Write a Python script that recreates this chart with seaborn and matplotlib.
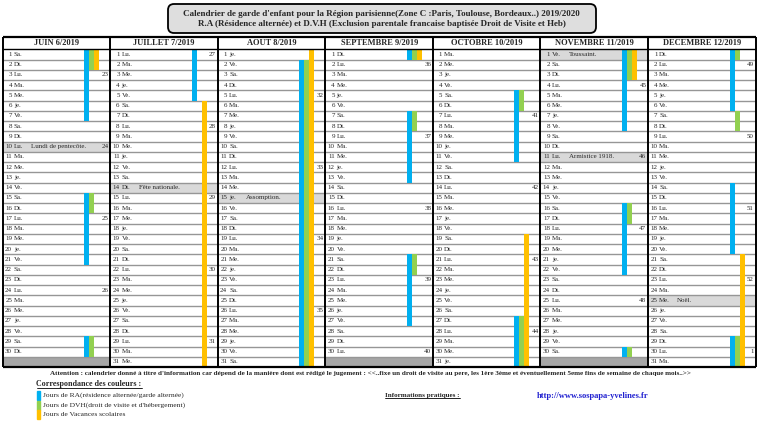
import numpy as np
import pandas as pd
import seaborn as sns
import matplotlib.pyplot as plt
from matplotlib.colors import ListedColormap
from matplotlib.patches import FancyBboxPatch, Rectangle
from matplotlib.transforms import IdentityTransform

month_titles = ["JUIN 6/2019", "JUILLET 7/2019", "AOUT 8/2019", "SEPTEMBRE 9/2019",
                "OCTOBRE 10/2019", "NOVEMBRE 11/2019", "DECEMBRE 12/2019"]
month_starts = ["2019-06-01", "2019-07-01", "2019-08-01", "2019-09-01",
                "2019-10-01", "2019-11-01", "2019-12-01"]

# day spans (first day, last day) per month
ra_spans = [[(1, 7), (15, 21), (29, 30)], [(1, 5)], [(2, 31)], [(1, 1), (7, 13), (21, 27)],
            [(5, 11), (27, 31)], [(1, 8), (16, 22), (30, 30)], [(1, 6), (14, 20), (29, 31)]]
dvh_spans = [[(1, 2), (15, 16), (29, 30)], [], [(2, 31)], [(1, 1), (7, 8), (21, 22)],
             [(5, 6), (27, 31)], [(1, 3), (16, 17), (30, 30)], [(1, 1), (7, 8), (29, 31)]]
vac_spans = [[(1, 2)], [(6, 31)], [(1, 31)], [(1, 1)], [(19, 31)], [(1, 3)], [(21, 31)]]

holidays = [(0, 10, "Lundi de pentecôte."), (1, 14, "Fête nationale."), (2, 15, "Assomption."),
            (5, 1, "Toussaint."), (5, 11, "Armistice 1918."), (6, 25, "Noël.")]
day_abbr = ["Lu.", "Ma.", "Me.", "je.", "Ve.", "Sa.", "Di."]

legend_labels = ["Jours de RA(résidence alternée/garde alternée)",
                 "Jours de DVH(droit de visite et d'hébergement)",
                 "Jours de Vacances scolaires"]

title_lines = ["Calendrier de garde d'enfant pour la Région parisienne(Zone C :Paris, Toulouse, Bordeaux..) 2019/2020",
               "R.A (Résidence alternée) et D.V.H (Exclusion parentale francaise baptisée Droit de Visite et Heb)"]
warning = ("Attention : calendrier donné à titre d'information car dépend de la manière dont est rédigé le jugement : "
           "<<..fixe un droit de visite au pere, les 1ère 3ème et éventuellement 5eme fins de semaine de chaque mois..>>")

BLUE, GREEN, YELLOW = "#00b0f0", "#92d050", "#ffc000"

sns.set_style("white")
plt.rcParams["font.family"] = ["Liberation Serif", "DejaVu Serif"]

W, H = 760, 421
fig = plt.figure(figsize=(W / 100, H / 100), dpi=100)

# grid axes in pixel placement
left, right, top, bottom = 2.7, 755.6, 37.5, 367.0
ax = fig.add_axes([left / W, 1 - bottom / H, (right - left) / W, (bottom - top) / H])
head = 1.15

# background cells: 0 normal, 1 holiday, 2 day not in month
bg = np.zeros((31, 7))
lengths = [pd.Timestamp(s).days_in_month for s in month_starts]
for m, n in enumerate(lengths):
    bg[n:, m] = 2
for m, d, _ in holidays:
    bg[d - 1, m] = 1
sns.heatmap(bg, ax=ax, cmap=ListedColormap(["white", "#d9d9d9", "#a6a6a6"]),
            vmin=-0.5, vmax=2.5, cbar=False, xticklabels=False, yticklabels=False)
ax.set_xlim(0, 7)
ax.set_ylim(31, -head)
ax.set_axis_off()

# row lines
ax.hlines(np.arange(1, 31), 0, 7, color="#969696", lw=1.0, zorder=2)

# colour bars
w = 5 / 107.55
offsets = {"ra": 81.5 / 107.55, "dvh": 86.5 / 107.55, "vac": 91.5 / 107.55}
for key, spans, col in [("ra", ra_spans, BLUE), ("dvh", dvh_spans, GREEN), ("vac", vac_spans, YELLOW)]:
    for m, lst in enumerate(spans):
        for a, b in lst:
            ax.bar(m + offsets[key], b - a + 1, bottom=a - 1, width=w, align="edge",
                   color=col, lw=0, zorder=3)

# borders
ax.hlines([0], 0, 7, color="black", lw=1.0, zorder=4)
ax.hlines([-head, 31], 0, 7, color="black", lw=1.6, zorder=4, clip_on=False)
ax.vlines(np.arange(0, 8), -head, 31, color="black", lw=1.4, zorder=4, clip_on=False)

# texts
fs = 5
hol_text = {(m, d): t for m, d, t in holidays}
for m, start in enumerate(month_starts):
    ax.text(m + 0.5, -head / 2, month_titles[m], ha="center", va="center",
            fontsize=6, fontweight="bold", zorder=5)
    dates = pd.date_range(start, periods=lengths[m], freq="D")
    for dt in dates:
        d = dt.day
        y = d - 0.5
        ax.text(m + 0.088, y, str(d), ha="right", va="center", fontsize=fs, zorder=5)
        ax.text(m + 0.105, y, day_abbr[dt.weekday()], ha="left", va="center", fontsize=fs, zorder=5)
        if (m, d) in hol_text:
            ax.text(m + 0.265, y, hol_text[(m, d)], ha="left", va="center", fontsize=fs, zorder=5)
        if dt.weekday() == 0:
            ax.text(m + 0.984, y, str(dt.isocalendar().week), ha="right", va="center",
                    fontsize=fs, zorder=5)

# title box
fig.add_artist(FancyBboxPatch((168, H - 33), 428, 29, boxstyle="round,pad=0,rounding_size=6",
                              transform=IdentityTransform(), fc="#dedede", ec="black", lw=1.3))
fig.text(381.5 / W, 1 - 14.5 / H, title_lines[0], ha="center", va="center",
         fontsize=6.5, fontweight="bold")
fig.text(381.5 / W, 1 - 24.5 / H, title_lines[1], ha="center", va="center",
         fontsize=6.5, fontweight="bold")

# footer
renderer = fig.canvas.get_renderer()


def underlined(x, y, s, **kw):
    t = fig.text(x / W, 1 - y / H, s, ha="left", va="center", **kw)
    bb = t.get_window_extent(renderer)
    fig.add_artist(plt.Line2D([bb.x0 / W, bb.x1 / W], [(bb.y0 + 0.5) / H] * 2, color="black", lw=0.6))
    return t


fig.text(370 / W, 1 - 373 / H, warning, ha="center", va="center", fontsize=5.15, fontweight="bold")
underlined(36.5, 384, "Correspondance des couleurs :", fontsize=5.8, fontweight="bold")
for i, (lab, col) in enumerate(zip(legend_labels, [BLUE, GREEN, YELLOW])):
    y = 395.5 + i * 9.6
    fig.add_artist(Rectangle((36.5 / W, 1 - (y + 4.5) / H), 3 / W, 9 / H, color=col,
                             transform=fig.transFigure))
    fig.text(43 / W, 1 - y / H, lab, ha="left", va="center", fontsize=5.4)
underlined(385, 396, "Informations pratiques :", fontsize=5.1, fontweight="bold")
fig.text(537 / W, 1 - 396 / H, "http://www.sospapa-yvelines.fr", ha="left", va="center",
         fontsize=6.1, fontweight="bold", color="#2020d0")

fig.savefig("out.png", dpi=100)
